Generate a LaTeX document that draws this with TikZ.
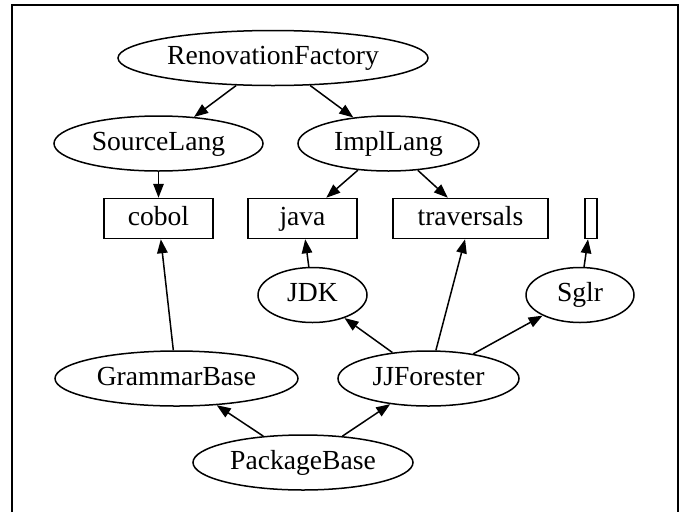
\documentclass[tikz,border=0pt]{standalone}
\usepackage{fontspec}
\setmainfont{Liberation Serif}
\usetikzlibrary{shapes.geometric,arrows.meta}

\tikzset{
	pkg/.style={ellipse,draw,line width=1.5pt,inner sep=0pt,minimum height=55pt,text height=18pt,text depth=5pt,font=\fontsize{27.6}{30}\selectfont},
	lang/.style={rectangle,draw,line width=1.5pt,inner sep=0pt,minimum height=40pt,text height=18pt,text depth=5pt,font=\fontsize{27.6}{30}\selectfont},
	dep/.style={line width=1.5pt,-{Triangle[length=14pt,width=10.5pt]}}
}

\begin{document}
\begin{tikzpicture}[x=1pt,y=-1pt]
		\useasboundingbox (0,0) rectangle (685,512);
		\draw[line width=2pt] (12,512) -- (12,5) -- (678,5) -- (678,512);

		\node[pkg,minimum width=310pt] (factory) at (273,58) {RenovationFactory};
		\node[pkg,minimum width=209pt] (source) at (158.5,143.5) {SourceLang};
		\node[pkg,minimum width=181pt] (impl) at (388.5,143.5) {ImplLang};

		\node[lang,minimum width=109pt] (cobol) at (158.5,218.5) {cobol};
		\node[lang,minimum width=109pt] (java) at (302.5,218.5) {java};
		\node[lang,minimum width=155pt] (trav) at (470.5,218.5) {traversals};
		\node[lang,minimum width=12pt] (blank) at (591,218.5) {};

		\node[pkg,minimum width=109pt] (jdk) at (312.5,295) {JDK};
		\node[pkg,minimum width=108pt] (sglr) at (580,295) {Sglr};
		\node[pkg,minimum width=243pt] (grammar) at (176.5,378.5) {GrammarBase};
		\node[pkg,minimum width=181pt] (jjf) at (428.5,378.5) {JJForester};
		\node[pkg,minimum width=220pt] (base) at (303,462.5) {PackageBase};

		\draw[dep] (factory) -- (source);
		\draw[dep] (factory) -- (impl);
		\draw[dep] (source) -- (cobol);
		\draw[dep] (impl) -- (java);
		\draw[dep] (impl) -- (trav);
		\draw[dep] (grammar) -- (cobol);
		\draw[dep] (jdk) -- (java);
		\draw[dep] (jjf) -- (jdk);
		\draw[dep] (jjf) -- (trav);
		\draw[dep] (jjf) -- (sglr);
		\draw[dep] (sglr) -- (blank);
		\draw[dep] (base) -- (grammar);
		\draw[dep] (base) -- (jjf);
	\end{tikzpicture}
\end{document}
